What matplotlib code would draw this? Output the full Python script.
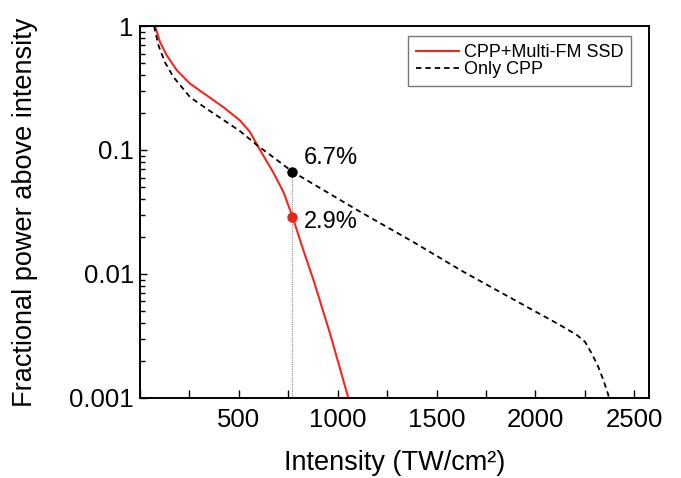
import matplotlib
matplotlib.use("Agg")
import matplotlib.pyplot as plt
from matplotlib.ticker import MultipleLocator, LogLocator, NullFormatter, FixedLocator, FixedFormatter

plt.rcParams['font.family'] = ['Liberation Sans', 'DejaVu Sans']

# Only CPP (dashed black)
cpp_x = [71, 93, 126, 169, 253, 337, 421, 506, 590, 680, 770, 1113, 1383, 1619, 1787,
         1956, 2124, 2209, 2251, 2285, 2318, 2344, 2369, 2372]
cpp_y = [1.0, 0.70, 0.51, 0.388, 0.267, 0.215, 0.175, 0.142, 0.11, 0.086, 0.067, 0.0318,
         0.0181, 0.0108, 0.00767, 0.00545, 0.00388, 0.00323, 0.00284, 0.00229, 0.00179,
         0.0014, 0.00106, 0.001]

# CPP + Multi-FM SSD (red)
ssd_x = [76, 101, 135, 186, 253, 337, 421, 506, 556, 598, 674, 725, 770, 826, 880, 961, 1054]
ssd_y = [1.0, 0.743, 0.58, 0.44, 0.343, 0.276, 0.222, 0.173, 0.14, 0.106, 0.066, 0.046,
         0.0294, 0.0156, 0.0087, 0.00332, 0.001]

mark_x = 770
mark_cpp = 0.067
mark_ssd = 0.029

fig = plt.figure(figsize=(6.81, 4.78), dpi=100)
ax = fig.add_axes([0.2056, 0.1674, 0.7474, 0.7782])

ax.plot(ssd_x, ssd_y, color='#f0281e', lw=1.5, label='CPP+Multi-FM SSD')
ax.plot(cpp_x, cpp_y, color='black', lw=1.3, ls=(0, (3, 2.2)), label='Only CPP')

# marker line and points at the chosen intensity
ax.plot([mark_x, mark_x], [0.001, mark_cpp], color='#888888', lw=0.8, ls=(0, (1, 1)))
ax.plot(mark_x, mark_cpp, 'o', color='black', ms=6.5, zorder=5)
ax.plot(mark_x, mark_ssd, 'o', color='#e8261c', ms=6.5, zorder=5)
ax.text(mark_x + 60, 0.086, '6.7%', fontsize=17, va='center')
ax.text(mark_x + 60, 0.0265, '2.9%', fontsize=17, va='center')

ax.set_yscale('log')
ax.set_xlim(0, 2575)
ax.set_ylim(0.001, 1)

ax.xaxis.set_major_locator(FixedLocator([500, 1000, 1500, 2000, 2500]))
ax.xaxis.set_minor_locator(MultipleLocator(250))
ax.yaxis.set_major_locator(FixedLocator([0.001, 0.01, 0.1, 1]))
ax.yaxis.set_major_formatter(FixedFormatter(['0.001', '0.01', '0.1', '1']))
ax.yaxis.set_minor_locator(LogLocator(base=10, subs=range(2, 10)))
ax.yaxis.set_minor_formatter(NullFormatter())

ax.tick_params(which='both', direction='in', top=False, right=False, labelsize=18.5)
ax.tick_params(axis='x', which='both', length=5.5, width=1, pad=7)
ax.tick_params(axis='y', which='major', length=5, width=1, pad=4.5)
ax.tick_params(axis='y', which='minor', length=3.3, width=1)
for s in ax.spines.values():
    s.set_linewidth(1.4)

ax.set_xlabel('Intensity (TW/cm²)', fontsize=19.5)
ax.xaxis.set_label_coords(0.5, -0.14)
ax.set_ylabel('Fractional power above intensity', fontsize=19.5)
ax.yaxis.set_label_coords(-0.20, 0.5)

leg = ax.legend(loc='upper right', bbox_to_anchor=(0.965, 0.973), borderaxespad=0,
                fontsize=13, frameon=True, fancybox=False, handlelength=2.4,
                handletextpad=0.25, borderpad=0.45, labelspacing=0.0)
leg.get_frame().set_edgecolor('#555555')
leg.get_frame().set_linewidth(1.0)

fig.savefig('out.png', dpi=100)
